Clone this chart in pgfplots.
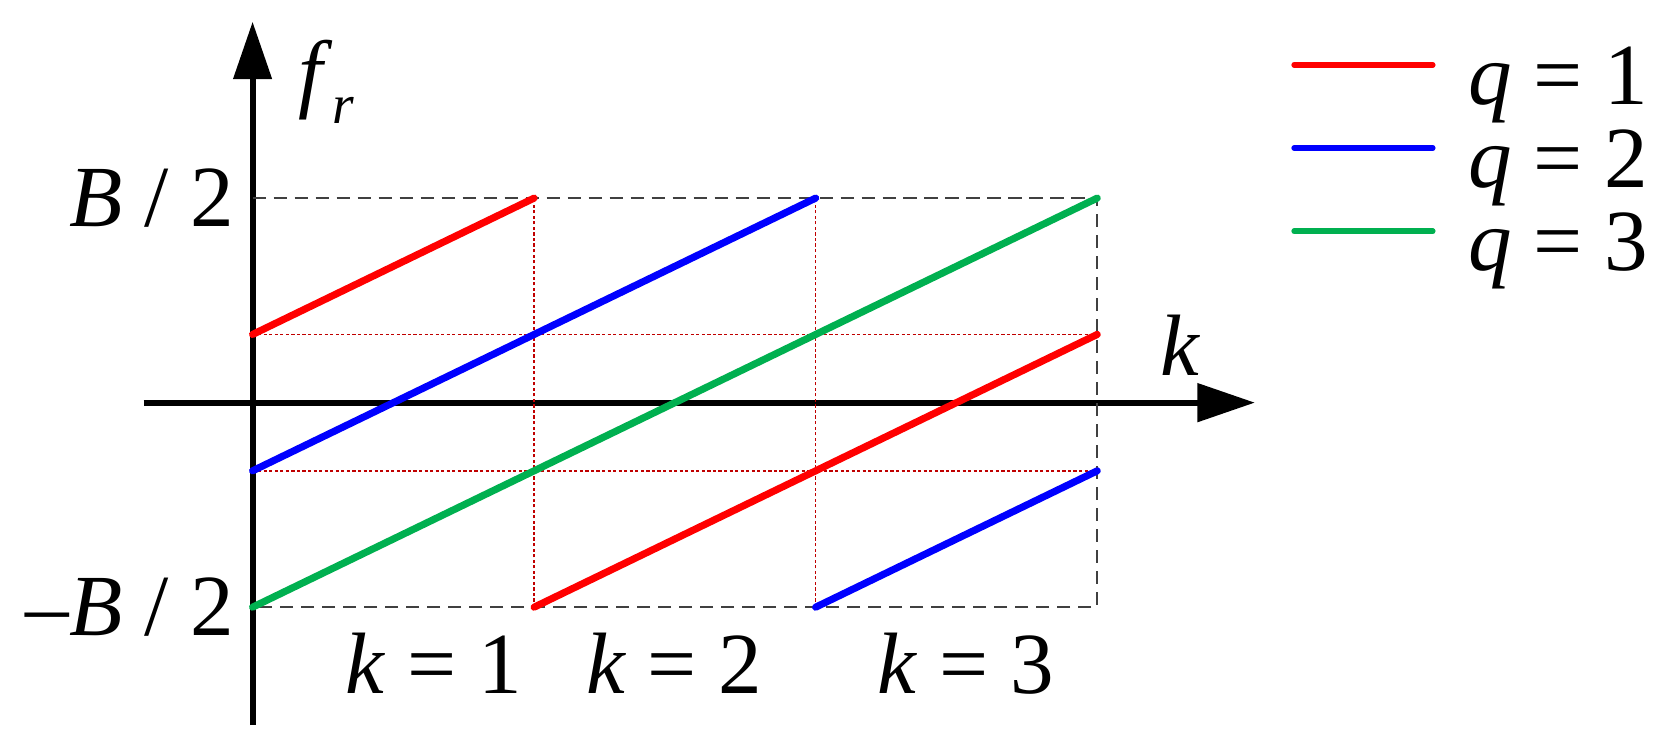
\documentclass[border=0pt]{standalone}
\usepackage{fontspec}
\newfontfamily\tnr{Liberation Serif}
\usepackage{pgfplots}
\pgfplotsset{compat=1.18}
\usetikzlibrary{arrows.meta}
\definecolor{qred}{RGB}{255,0,0}
\definecolor{qblue}{RGB}{0,0,255}
\definecolor{qgreen}{RGB}{0,176,80}
\definecolor{dotred}{RGB}{192,0,0}
\definecolor{dashgray}{RGB}{64,64,64}
\newcommand{\bigf}{\fontsize{22}{26}\selectfont\tnr}
\begin{document}
\begin{tikzpicture}
\begin{axis}[
  name=ax,
  scale only axis,
  width=280.5pt, height=177.5pt,
  xmin=-0.387, xmax=3.56, ymin=-0.788, ymax=0.931,
  axis lines=middle,
  axis line style={line width=1.5pt, -{Triangle[length=14.5pt,width=9.5pt]}},
  xtick=\empty,
  ytick={-0.5,0.5},
  yticklabels={{\bigf\textendash\textit{B} / 2},{\bigf \textit{B} / 2}},
  major tick length=0pt,
  ytick style={draw=none},
  yticklabel style={font=\bigf, inner sep=0pt, xshift=-4.5pt},
  xlabel={\bigf\textit{k}},
  ylabel={\bigf\textit{f}\raisebox{-5.7pt}{\fontsize{14}{14}\selectfont\tnr\textit{r}}},
  x label style={at={(axis cs:3.296,0.0666)}, anchor=base, font=\bigf, inner sep=0pt},
  y label style={at={(axis cs:0.16,0.737)}, anchor=base west, font=\bigf, inner sep=0pt},
  clip=false,
  unbounded coords=jump,
  legend style={draw=none, fill=none, at={(axis description cs:1.0214,0.985)}, anchor=north west,
    font=\bigf, row sep=0pt, nodes={inner sep=0pt, text height=16pt, text depth=5pt},
    /tikz/every odd column/.append style={column sep=8.25pt}},
  legend image code/.code={\draw[#1, line width=1.4pt, line cap=round] (0pt,4.5pt) -- (35pt,4.5pt);},
  legend cell align=left,
]
% dashed frame
\addplot[forget plot, dashgray, line width=0.5pt, dash pattern=on 3.3pt off 2pt]
  coordinates {(0,0.5) (3,0.5) (3,-0.5) (0,-0.5)};
% red dotted guides
\addplot[forget plot, dotred, line width=0.4pt, dash pattern=on 0.8pt off 0.6pt]
  coordinates {(1,-0.5) (1,0.5) (1,nan) (2,-0.5) (2,0.5) (2,nan)
               (0,0.1667) (3,0.1667) (3,nan) (0,-0.1667) (3,-0.1667)};
% q = 1
\addplot[qred, line width=1.8pt, line cap=round]
  coordinates {(0,0.1667) (1,0.5) (1,nan) (1,-0.5) (3,0.1667)};
\addlegendentry{\bigf\textit{q} = 1}
% q = 2
\addplot[qblue, line width=1.8pt, line cap=round]
  coordinates {(0,-0.1667) (2,0.5) (2,nan) (2,-0.5) (3,-0.1667)};
\addlegendentry{\bigf\textit{q} = 2}
% q = 3
\addplot[qgreen, line width=1.8pt, line cap=round]
  coordinates {(0,-0.5) (3,0.5)};
\addlegendentry{\bigf\textit{q} = 3}
\node[anchor=base, inner sep=0pt] at (axis cs:0.644,-0.711) {\bigf\textit{k} = 1};
\node[anchor=base, inner sep=0pt] at (axis cs:1.498,-0.711) {\bigf\textit{k} = 2};
\node[anchor=base, inner sep=0pt] at (axis cs:2.533,-0.711) {\bigf\textit{k} = 3};
\end{axis}
\path ([xshift=-36.25pt,yshift=-4.25pt]ax.south west) rectangle ++(415pt,187.25pt);
\end{tikzpicture}
\end{document}
